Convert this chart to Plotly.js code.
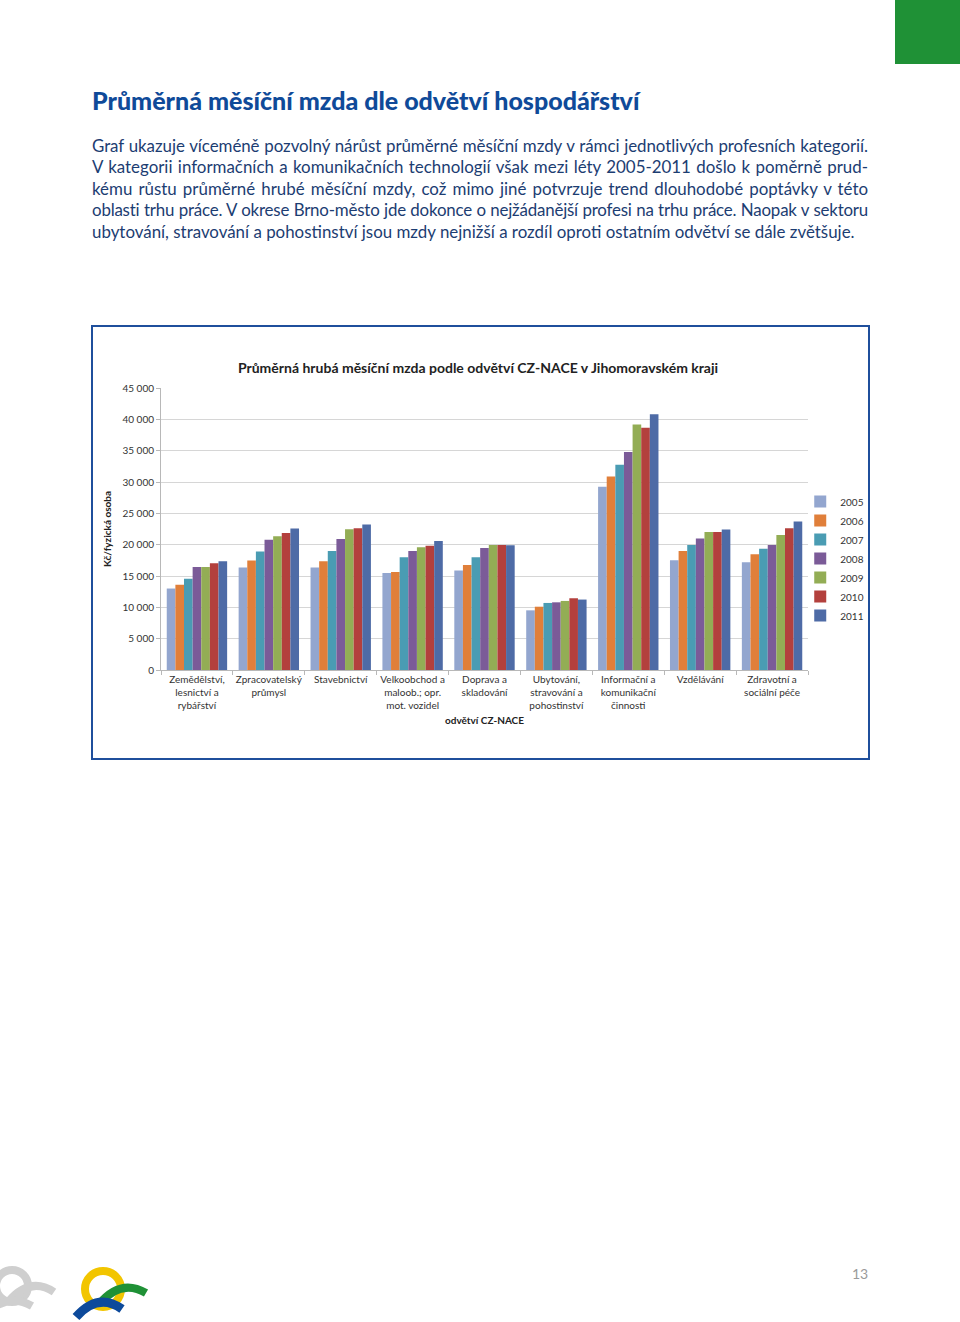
<!DOCTYPE html>
<html>
<head>
<meta charset="utf-8">
<script src="https://cdn.plot.ly/plotly-3.0.1.min.js"></script>
<style>
  html, body { margin: 0; padding: 0; background: #fff; }
  body { width: 960px; height: 1322px; position: relative; overflow: hidden; font-family: Lato, "Open Sans", sans-serif; }
  #greenbox { position: absolute; left: 895px; top: 0; width: 65px; height: 64px; background: #1f9136; }
  #heading { position: absolute; left: 92px; top: 86px; font-size: 25px; line-height: 28px; font-weight: 900; color: #0f4a99; white-space: nowrap; }
  #para { position: absolute; left: 92px; top: 135px; width: 776px; font-size: 16.9px; line-height: 21.4px; color: #1c3d72; }
  #para .ln { white-space: nowrap; text-align: left; }
  #para.done .ln { text-align: justify; text-align-last: justify; }
  #para.done .ln.last { text-align-last: left; }
  #box { position: absolute; left: 91px; top: 325px; width: 775px; height: 431px; border: 2px solid #1f4f9c; }
  #chart { position: absolute; left: 93px; top: 327px; width: 830px; height: 431px; }
  #pagenum { position: absolute; left: 852px; top: 1265px; font-size: 14px; color: #9a9a9a; }
  #logos { position: absolute; left: 0; top: 1240px; }
</style>
</head>
<body>
<div id="greenbox"></div>
<div id="heading">Průměrná měsíční mzda dle odvětví hospodářství</div>
<div id="para">
  <div class="ln"><span>Graf ukazuje víceméně pozvolný nárůst průměrné měsíční mzdy v rámci jednotlivých profesních kategorií.</span></div>
  <div class="ln"><span>V kategorii informačních a komunikačních technologií však mezi léty 2005-2011 došlo k poměrně prud-</span></div>
  <div class="ln"><span>kému růstu průměrné hrubé měsíční mzdy, což mimo jiné potvrzuje trend dlouhodobé poptávky v této</span></div>
  <div class="ln"><span>oblasti trhu práce. V okrese Brno-město jde dokonce o nejžádanější profesi na trhu práce. Naopak v sektoru</span></div>
  <div class="ln last"><span>ubytování, stravování a pohostinství jsou mzdy nejnižší a rozdíl oproti ostatním odvětví se dále zvětšuje.</span></div>
</div>
<div id="box"></div>
<div id="chart"></div>
<div id="pagenum">13</div>
<svg id="logos" width="200" height="82" viewBox="0 1240 200 82">
  <g fill="none" stroke="#cfcfcf" stroke-width="8">
    <circle cx="12" cy="1286" r="16"/>
    <path d="M 8 1302 Q 30 1276 54 1292"/>
    <path d="M -14 1314 Q 8 1292 32 1306"/>
  </g>
  <g fill="none" stroke-width="8">
    <circle cx="103" cy="1289" r="18" stroke="#f2c500"/>
    <path d="M 99 1304 Q 121 1278 146 1293" stroke="#1f9136"/>
    <path d="M 76 1317 Q 98 1292 122 1309" stroke="#0d4a9b" stroke-width="9"/>
  </g>
</svg>
<script>
// fit paragraph lines into the column width (measured before justification)
document.querySelectorAll('#para .ln span').forEach(function (s) {
  var ls = 0;
  while (s.getBoundingClientRect().width > 774 && ls > -1.2) {
    ls -= 0.05;
    s.style.letterSpacing = ls + 'px';
  }
});
document.getElementById('para').className = 'done';

const categories = [
  "Zemědělství,<br>lesnictví a<br>rybářství",
  "Zpracovatelský<br>průmysl",
  "Stavebnictví",
  "Velkoobchod a<br>maloob.; opr.<br>mot. vozidel",
  "Doprava a<br>skladování",
  "Ubytování,<br>stravování a<br>pohostinství",
  "Informační a<br>komunikační<br>činnosti",
  "Vzdělávání",
  "Zdravotní a<br>sociální péče"
];
const years = ["2005", "2006", "2007", "2008", "2009", "2010", "2011"];
const v2005 = [13000, 16350, 16350, 15480, 15860, 9520, 29250, 17530, 17200];
const v2006 = [13600, 17470, 17370, 15650, 16770, 10100, 30860, 18980, 18490];
const v2007 = [14570, 18920, 18980, 18010, 18010, 10700, 32740, 19950, 19350];
const v2008 = [16450, 20800, 20910, 18980, 19460, 10800, 34780, 20970, 19950];
const v2009 = [16450, 21340, 22470, 19570, 19950, 11020, 39190, 22040, 21560];
const v2010 = [17040, 21880, 22630, 19840, 19950, 11450, 38660, 22040, 22630];
const v2011 = [17370, 22580, 23230, 20590, 19890, 11240, 40810, 22420, 23710];
const series = [v2005, v2006, v2007, v2008, v2009, v2010, v2011];
const colors = ["#93a6cf", "#e07f3a", "#4a9cb3", "#7b5b98", "#93ad55", "#b3403d", "#4e6ba6"];

const traces = years.map((y, i) => ({
  type: "bar",
  name: y,
  x: categories,
  y: series[i],
  marker: { color: colors[i], line: { width: 0 } },
  hoverinfo: "none"
}));

const layout = {
  width: 830, height: 431,
  margin: { l: 68, r: 115, t: 61, b: 88 },
  paper_bgcolor: "rgba(0,0,0,0)",
  plot_bgcolor: "#fff",
  separators: ", ",
  font: { family: "Lato, 'Open Sans', sans-serif", size: 10, color: "#333" },
  title: {
    text: "<b>Průměrná hrubá měsíční mzda podle odvětví CZ-NACE v Jihomoravském kraji</b>",
    font: { size: 14, color: "#222" },
    xref: "paper", x: 0.49, xanchor: "center",
    yref: "container", y: 0.905, yanchor: "middle"
  },
  barmode: "group",
  bargap: 0.16,
  bargroupgap: 0,
  xaxis: {
    type: "category",
    showline: true, linecolor: "#b8b8b8", linewidth: 1,
    ticks: "outside", ticklen: 4, tickcolor: "#b8b8b8", tickson: "boundaries",
    tickangle: 0,
    tickfont: { size: 10, color: "#333" },
    title: { text: "<b>odvětví CZ-NACE</b>", font: { size: 10, color: "#222" }, standoff: 6 },
    showgrid: false
  },
  yaxis: {
    range: [0, 45000], dtick: 5000, tickformat: ",d",
    showline: true, linecolor: "#b8b8b8", linewidth: 1,
    ticks: "outside", ticklen: 4, tickcolor: "#b8b8b8",
    gridcolor: "#d6d6d6", gridwidth: 1,
    tickfont: { size: 10, color: "#333" },
    title: { text: "<b>Kč/fyzická osoba</b>", font: { size: 10, color: "#222" }, standoff: 8 },
    zeroline: false
  },
  legend: {
    x: 0.988, xanchor: "left", y: 0.395, yanchor: "middle",
    font: { size: 10, color: "#333" },
    itemwidth: 30, tracegroupgap: 0,
    bgcolor: "rgba(0,0,0,0)"
  },
  showlegend: true
};

Plotly.newPlot("chart", traces, layout, { displayModeBar: false, staticPlot: true });
</script>
</body>
</html>
